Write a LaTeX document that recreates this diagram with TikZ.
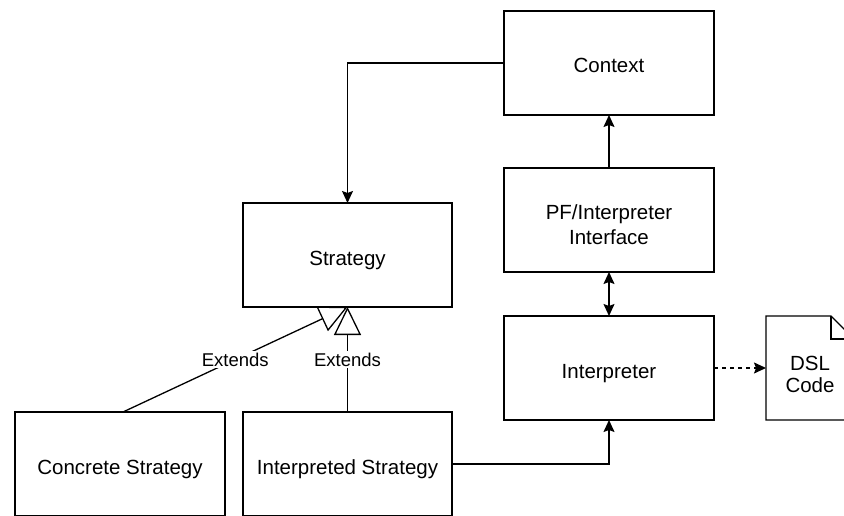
\documentclass[tikz,border=0pt]{standalone}
\usepackage{fontspec}
\setmainfont{Liberation Sans}
\usetikzlibrary{arrows.meta}
\begin{document}
\begin{tikzpicture}[x=1pt,y=-1pt,
  box/.style={draw, line width=1.3pt, minimum width=210pt, minimum height=104pt,
    inner sep=0pt, outer sep=0pt, text height=22pt, text depth=2pt,
    font=\fontsize{20.5}{24.5}\selectfont},
  conn/.style={line width=1.3pt},
  tipf/.style={-{Stealth[length=12pt,width=11pt,inset=2pt]}},
  ext/.style={line width=1.3pt, -{Triangle[open,length=28pt,width=27pt]}},
  lbl/.style={fill=white, inner sep=1.5pt, font=\fontsize{18.5}{22}\selectfont}]
\useasboundingbox (0,0) rectangle (844,516);

% main blocks
\node[box] (ctx)    at (609,63)     {Context};
\node[box] (pf)     at (609,220)    {};
\node[align=center, font=\fontsize{20.5}{25}\selectfont] (pftxt) at (609,225)
  {PF/Interpreter\\Interface};
\node[box] (interp) at (609,368)    {Interpreter};
\node[box, minimum width=209pt] (strat) at (347.5,255) {Strategy};
\node[box] (conc)   at (120,464)    {Concrete Strategy};
\node[box, minimum width=209pt] (ist) at (347.5,464) {Interpreted Strategy};

% DSL source document with folded corner
\node[minimum width=88pt, minimum height=104pt, inner sep=0pt, outer sep=0pt] (dsl) at (810,368) {};
\draw[line width=1.3pt, line join=miter]
  (dsl.north west) -- ([xshift=-23pt]dsl.north east) -- ([yshift=-23pt]dsl.north east)
  -- (dsl.south east) -- (dsl.south west) -- cycle;
\draw[line width=1.3pt]
  ([xshift=-23pt]dsl.north east) -- ([xshift=-23pt,yshift=-23pt]dsl.north east)
  -- ([yshift=-23pt]dsl.north east);
\node[align=center, font=\fontsize{20.5}{22}\selectfont] (dsltxt) at (810,374) {DSL\\Code};

% connectors
\draw[conn, tipf] (ctx.west) -| (strat.north);
\draw[conn, tipf] (pf.north) -- (ctx.south);
\draw[conn, {Stealth[length=12pt,width=11pt,inset=2pt]}-{Stealth[length=12pt,width=11pt,inset=2pt]}]
  (pf.south) -- (interp.north);
\draw[conn, tipf] (ist.east) -| (interp.south);
\draw[conn, tipf, dash pattern=on 4pt off 4pt] (interp.east) -- (dsl.west);

% inheritance
\draw[ext] (conc.north -| 123,0) -- (strat.south)
  node[lbl, pos=0.5] {Extends};
\draw[ext] (ist.north) -- (strat.south)
  node[lbl, pos=0.5] {Extends};
\end{tikzpicture}
\end{document}
